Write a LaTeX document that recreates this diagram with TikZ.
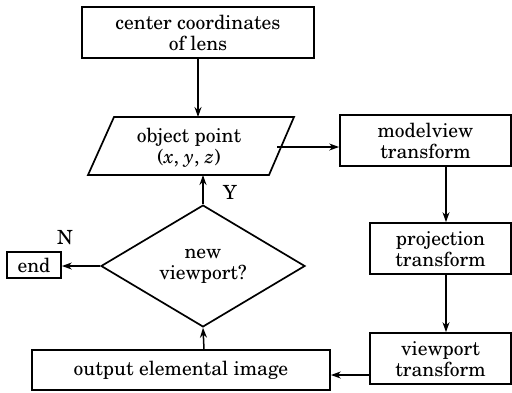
\documentclass[tikz,border=0pt]{standalone}
\usepackage[T1]{fontenc}
\usepackage{newcent}
\usetikzlibrary{shapes.geometric,arrows.meta}
\begin{document}
\begin{tikzpicture}[x=1pt,y=-1pt,
  font=\fontsize{19.5}{21}\selectfont,
  box/.style={draw,line width=1.7pt,rectangle,inner sep=0pt,align=center},
  arr/.style={line width=1.5pt,-{Stealth[length=10pt,width=7pt]}},
  lbl/.style={inner sep=0pt}]
\useasboundingbox (0,0) rectangle (512,392);
\node[box,minimum width=232pt,minimum height=51pt] (lens) at (198,32.5) {center coordinates\\of lens};
% parallelogram
\coordinate (pbl) at (88,175);
\coordinate (ptl) at (114,117);
\coordinate (ptr) at (294,117);
\coordinate (pbr) at (269,175);
\draw[line width=1.7pt,line join=miter] (pbl) -- (ptl) -- (ptr) -- (pbr) -- cycle;
\node[inner sep=0pt,align=center] (obj) at (189,148) {object point\\(\textit{x}, \textit{y}, \textit{z})};
\coordinate (objeast) at (277,147);
\node[box,minimum width=171pt,minimum height=51pt] (model) at (425.5,140.5) {modelview\\transform};
\node[box,minimum width=141pt,minimum height=51pt] (proj) at (440.5,248.5) {projection\\transform};
\node[box,minimum width=141pt,minimum height=51pt] (view) at (440.5,358.5) {viewport\\transform};
\node[box,minimum width=298pt,minimum height=40pt] (out) at (181,370) {output elemental image};
\node[draw,line width=1.7pt,diamond,minimum width=204pt,minimum height=101pt,inner sep=0pt,align=center]
  (dec) at (203,266) {new\\viewport?};
\node[box,minimum width=54pt,minimum height=26pt] (end) at (34,265) {end};
\node[lbl] (ylab) at (230,192) {Y};
\node[lbl] (nlab) at (65,237) {N};
\coordinate (colx) at (446,0);
\coordinate (midx) at (204,0);
\coordinate (outy) at (0,375);
\draw[arr] (lens.south) -- (lens.south |- ptl);
\draw[arr] (objeast) -- (model.west |- objeast);
\draw[arr] (model.south -| colx) -- (proj.north -| colx);
\draw[arr] (proj.south -| colx) -- (view.north -| colx);
\draw[arr] (view.west |- outy) -- (out.east |- outy);
\draw[arr] (out.north -| midx) -- (dec.south);
\draw[arr] (dec.north) -- (dec.north |- pbl);
\draw[arr] (dec.west) -- (end.east |- dec.west);
\end{tikzpicture}
\end{document}
